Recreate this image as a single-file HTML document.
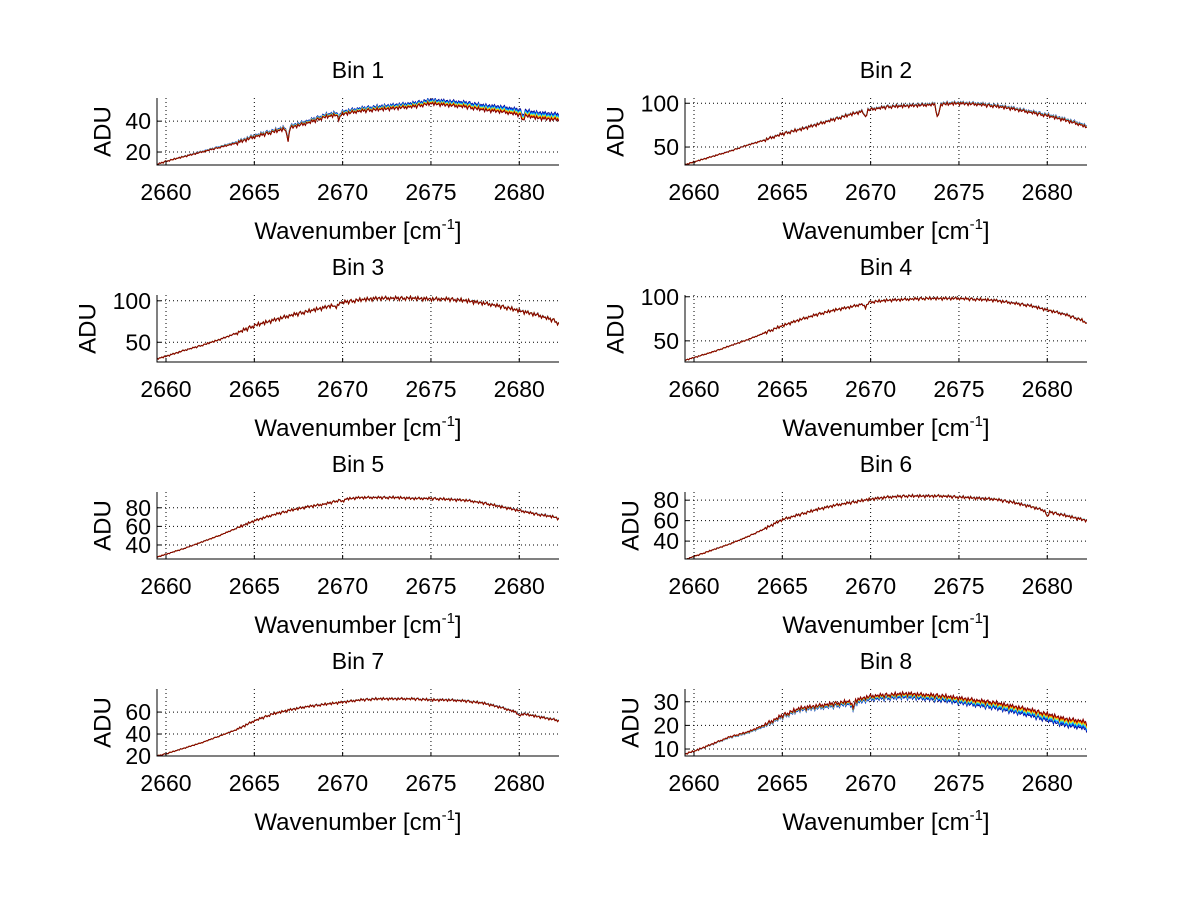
<!DOCTYPE html>
<html><head><meta charset="utf-8">
<style>
html,body{margin:0;padding:0;background:#fff;}
svg{display:block;font-family:"Liberation Sans",Arial,sans-serif;}
</style></head>
<body>
<svg id="fig" width="1200" height="901" viewBox="0 0 1200 901" xmlns="http://www.w3.org/2000/svg">
<rect x="0" y="0" width="1200" height="901" fill="#fff"/>
</svg>
<script>
// ---- data ----
const binTitles = ["Bin 1","Bin 2","Bin 3","Bin 4","Bin 5","Bin 6","Bin 7","Bin 8"];
const xTicks = [2660,2665,2670,2675,2680];
const xRange = [2659.49,2682.25];
// base spectrum sample positions (wavenumber)
const sampleX = [2659.5,2660,2661,2662,2663,2664,2665,2666,2667,2668,2669,2670,2671,2672,2673,2674,2675,2676,2677,2678,2679,2680,2681,2682,2682.25];
const bin1 = [12,14,17,20,23,26,30,33,36,39,43,45,47,48,49,50,52,51,50,48,47,45,43,42,42];
const bin2 = [30,33,39,45,52,58,65,70,76,82,88,93,96,97,98,99,100,99,97,94,90,86,81,75,72];
const bin3 = [30,33,40,46,53,61,70,76,82,87,92,98,101,103,103,103,102,102,100,97,93,88,83,76,72];
const bin4 = [28,31,37,44,51,59,67,74,80,85,89,94,96,97,98,98,98,97,96,93,90,85,80,73,69];
const bin5 = [27,30,36,43,50,58,66,72,77,81,84,89,91,91,91,90,90,89,88,85,81,77,73,70,68];
const bin6 = [22,25,31,37,44,52,61,66,71,75,78,81,83,84,84,84,83,82,81,78,74,69,65,61,60];
const bin7 = [20,22,27,32,38,44,52,58,62,65,67,69,71,72,72,72,71,71,70,68,64,59,56,53,52];
const bin8 = [8,9,12,15,17,20,24,27,28,29,30,32,32.5,33,32.5,32,31,30,29,27.5,26,24,22,21,20];
const bins = [bin1,bin2,bin3,bin4,bin5,bin6,bin7,bin8];
// absorption dips: positions and depths per bin
const dipPos = [[2666.9,2669.8,2680.2],[2669.7,2673.8],[2669.6],[2669.7],[2670.0],[2680.0],[2680.0],[2669.0]];
const dipDepth = [[8,3,3],[8,18],[5],[6],[3],[5],[3],[3]];
// noise amplitude and per-series separation
const noiseAmp = [1.3,2.0,2.6,1.8,1.5,1.5,1.2,1.0];
const seriesSep = [0.9,0.4,0.1,0.1,0.1,0.1,0.1,-0.7];
const yLimits = [[11.6,55],[29.5,106],[26.2,107],[26,102],[24.9,97],[22.5,88],[20,81],[7.05,35.4]];
const yTicks = [[20,40],[50,100],[50,100],[50,100],[40,60,80],[40,60,80],[20,40,60],[10,20,30]];
const seriesColors = ["#00008f","#0060ff","#00dfff","#8fff70","#ffcf00","#ff4000","#800000"];
const seriesOffsets = [3,2,1,0.5,0,-0.7,-1.2];
const ripple = [0.3,-0.6,0.9,-0.2,0.5,-1.0,0.4,0.8,-0.5,0.1,-0.9,0.7,0.2,-0.4,1.0,-0.7,0.3,-0.1,0.6,-0.8,0.9,-0.3,0.0,0.5,-1.0,0.6,-0.2,0.8,-0.6,0.2,0.4,-0.9,0.7,-0.4,0.1,0.9,-0.5,0.3,-0.8,0.5,-0.1];

// ---- layout ----
const NS="http://www.w3.org/2000/svg";
const svg=document.getElementById('fig');
const colX=[[157,559],[685,1087]];
const rowY=[98,295,492,689];
const H=67;
function mk(tag,attrs,parent){const e=document.createElementNS(NS,tag);for(const k in attrs)e.setAttribute(k,attrs[k]);(parent||svg).appendChild(e);return e;}
function interp(xs,ys,x){if(x<=xs[0])return ys[0];for(let i=1;i<xs.length;i++){if(x<=xs[i]){const t=(x-xs[i-1])/(xs[i]-xs[i-1]);return ys[i-1]+t*(ys[i]-ys[i-1]);}}return ys[ys.length-1];}

bins.forEach((data,b)=>{
  const c=b%2, r=Math.floor(b/2);
  const x0=colX[c][0],x1=colX[c][1],y0=rowY[r],y1=rowY[r]+H;
  const [ymin,ymax]=yLimits[b];
  const sx=v=>x0+(v-xRange[0])/(xRange[1]-xRange[0])*(x1-x0);
  const sy=v=>y1-(v-ymin)/(ymax-ymin)*(y1-y0);
  const g=mk('g',{});
  
  
  const cp=mk('clipPath',{id:'clip'+b},g);
  mk('rect',{x:x0,y:y0,width:x1-x0,height:H},cp);
  xTicks.forEach(t=>{const gl=mk('line',{x1:sx(t),x2:sx(t),y1:y0,y2:y1,stroke:'#000','stroke-width':1,'stroke-dasharray':'1,3'},g);
    });
  yTicks[b].forEach(t=>{const gl=mk('line',{x1:x0,x2:x1,y1:sy(t),y2:sy(t),stroke:'#000','stroke-width':1,'stroke-dasharray':'1,3'},g);
    });
  seriesColors.forEach((col,s)=>{
    let d='';let k=0;
    for(let x=xRange[0];x<=xRange[1]+1e-9;x+=0.07,k++){
      let v=interp(sampleX,data,x);
      dipPos[b].forEach((p,j)=>{const dx=Math.abs(x-p);if(dx<0.15)v-=dipDepth[b][j]*(1-dx/0.15);});
      v+=ripple[(k+b*7)%ripple.length]*noiseAmp[b]*(x>2664?1:0.4);
      v+=seriesOffsets[s]*seriesSep[b]*(x-xRange[0])/(xRange[1]-xRange[0]);
      d+=(d?'L':'M')+sx(x).toFixed(1)+','+sy(v).toFixed(1);
    }
    const p=mk('path',{d:d,fill:'none',stroke:col,'stroke-width':1,'clip-path':'url(#clip'+b+')'},g);
    
    
  });
  const ax=mk('path',{d:`M${x0},${y0}V${y1}H${x1}`,fill:'none',stroke:'#000','stroke-width':1},g);
  
  xTicks.forEach(t=>{
    mk('line',{x1:sx(t),x2:sx(t),y1:y1,y2:y1-4,stroke:'#000'},g);
    const tl=mk('text',{x:sx(t),y:y1+35,'font-size':23,'text-anchor':'middle',fill:'#000'},g);
    tl.textContent=t;
  });
  let maxw=0;
  yTicks[b].forEach(t=>{
    mk('line',{x1:x0,x2:x0+4,y1:sy(t),y2:sy(t),stroke:'#000'},g);
    const tl=mk('text',{x:x0-6,y:sy(t)+8,'font-size':23,'text-anchor':'end',fill:'#000'},g);
    tl.textContent=t;
    maxw=Math.max(maxw,String(t).length);
  });
  const ttl=mk('text',{x:(x0+x1)/2,y:y0-20,'font-size':23,'text-anchor':'middle',fill:'#000'},g);
  ttl.textContent=binTitles[b];
  const xl=mk('text',{x:(x0+x1)/2,y:y1+74,'font-size':24,'text-anchor':'middle',fill:'#000'},g);
  
  xl.appendChild(document.createTextNode('Wavenumber [cm'));
  const sup=mk('tspan',{'font-size':15,dy:-10},xl);sup.textContent='-1';
  const cl=mk('tspan',{'font-size':24,dy:10},xl);cl.textContent=']';
  const ycx=x0-(maxw>2?69:54), ycy=(y0+y1)/2;
  const yl=mk('text',{x:ycx,y:ycy,'font-size':24,'text-anchor':'middle','dominant-baseline':'central',transform:`rotate(-90 ${ycx} ${ycy})`,fill:'#000'},g);
  yl.textContent='ADU';
});
</script>
</body></html>
